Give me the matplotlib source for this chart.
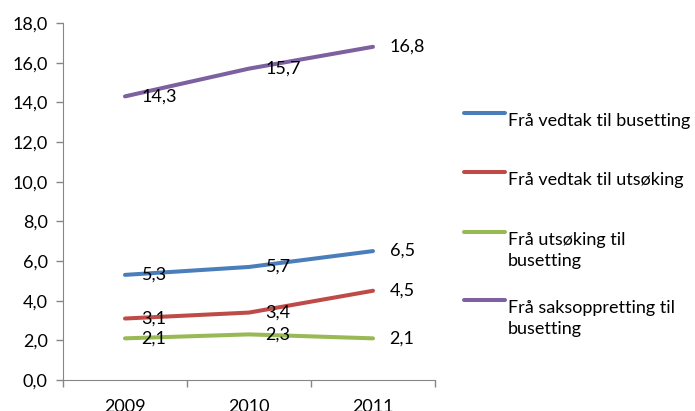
import matplotlib.pyplot as plt
from matplotlib.lines import Line2D

years = ["2009", "2010", "2011"]
series_names = ["Frå vedtak til busetting",
                "Frå vedtak til utsøking",
                "Frå utsøking til\nbusetting",
                "Frå saksoppretting til\nbusetting"]
vedtak_buset = [5.3, 5.7, 6.5]
vedtak_utsok = [3.1, 3.4, 4.5]
utsok_buset = [2.1, 2.3, 2.1]
saks_buset = [14.3, 15.7, 16.8]
colors = ["#4A7EBB", "#BE4B48", "#98B954", "#7D60A0"]

plt.rcParams['font.family'] = ['Lato', 'DejaVu Sans']

fig = plt.figure(figsize=(6.95, 4.11), dpi=100)
ax = fig.add_axes([63 / 695, 31 / 411, 372 / 695, 357 / 411])

x = list(range(len(years)))
all_series = [vedtak_buset, vedtak_utsok, utsok_buset, saks_buset]
for vals, col in zip(all_series, colors):
    ax.plot(x, vals, color=col, lw=2.9, solid_capstyle='round')
    for xi, v in zip(x, vals):
        ax.annotate(("%.1f" % v).replace(".", ","), (xi, v), xytext=(12, 0),
                    textcoords='offset points', va='center', ha='left',
                    fontsize=13, color='black')

ax.set_xlim(-0.5, 2.5)
ax.set_ylim(0, 18)
ax.set_yticks([i * 2 for i in range(10)])
ax.set_yticklabels([("%.1f" % (i * 2)).replace(".", ",") for i in range(10)], fontsize=13)
ax.set_xticks([-0.5, 0.5, 1.5, 2.5])
ax.set_xticklabels([])
ax.set_xticks(x, minor=True)
ax.set_xticklabels(years, minor=True, fontsize=13)
ax.tick_params(axis='x', which='minor', length=0, pad=14)
ax.tick_params(axis='both', which='major', length=5, width=1, color='#868686', direction='out')
ax.tick_params(axis='y', pad=6)
for s in ['top', 'right']:
    ax.spines[s].set_visible(False)
for s in ['left', 'bottom']:
    ax.spines[s].set_color('#868686')

# legend drawn by hand to mimic the Excel layout
leg_y = [113, 172, 232, 300]
for name, col, yy in zip(series_names, colors, leg_y):
    yf = 1 - yy / 411
    fig.add_artist(Line2D([464 / 695, 505 / 695], [yf, yf], transform=fig.transFigure,
                          color=col, lw=2.9, solid_capstyle='round'))
    fig.text(508 / 695, yf, name, fontsize=13, va='top', ha='left',
             linespacing=1.35, transform=fig.transFigure)

fig.savefig("out.png", dpi=100)
